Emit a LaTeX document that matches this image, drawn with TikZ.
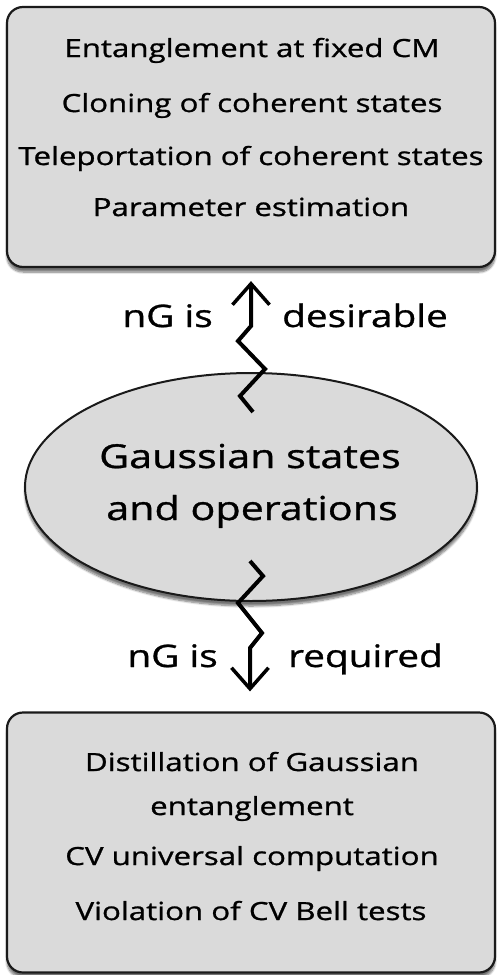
\documentclass[tikz,border=0pt]{standalone}
\usepackage{fontspec}
\setmainfont{Open Sans}[FakeStretch=1.25, FakeBold=1]
\usetikzlibrary{shapes.geometric,arrows.meta,shadows.blur,calc}
\definecolor{boxfill}{HTML}{DADADA}
\definecolor{edge}{HTML}{1A1A1A}
\begin{document}
\begin{tikzpicture}[x=1pt,y=-1pt,
  shadowed/.style={blur shadow={shadow xshift=0pt, shadow yshift=-5pt, shadow blur steps=8, shadow opacity=55}},
  box/.style={draw=edge, line width=2.2pt, fill=boxfill, rounded corners=16pt, shadowed,
    minimum width=488pt, minimum height=260pt, inner sep=0pt},
  ell/.style={ellipse, draw=edge, line width=2pt, fill=boxfill, shadowed,
    minimum width=452pt, minimum height=228pt, inner sep=0pt},
  txt/.style={font=\fontsize{25}{30}\selectfont, inner sep=0pt, anchor=base},
  big/.style={font=\fontsize{33}{38}\selectfont, inner sep=0pt, anchor=base},
  lbl/.style={font=\fontsize{31}{36}\selectfont, inner sep=0pt},
  zig/.style={line width=4pt, line join=miter, draw=black,
    -{Straight Barb[length=21pt, width=37pt, line width=3.5pt]}}
]
\useasboundingbox (0,0) rectangle (498,975);

% boxes and ellipse
\node[box] (top) at (251,137) {};
\node[box] (bot) at (251,842.5) {};
\node[ell] (gs) at (251,487) {};

% top box text
\node[txt] (t1) at (252,57) {Entanglement at fixed CM};
\node[txt] (t2) at (252,112) {Cloning of coherent states};
\node[txt] (t3) at (251,165) {Teleportation of coherent states};
\node[txt] (t4) at (251,216) {Parameter estimation};

% ellipse text
\node[big] (g1) at (250,468) {Gaussian states};
\node[big] (g2) at (252,520) {and operations};

% bottom box text
\node[txt] (b1) at (252,771) {Distillation of Gaussian};
\node[txt] (b2) at (252,815) {entanglement};
\node[txt] (b3) at (252,865) {CV universal computation};
\node[txt] (b4) at (251,920) {Violation of CV Bell tests};

% zigzag connectors
\coordinate (a0) at ($(gs.north)+(2,40)$);
\coordinate (a5) at ($(top.south)+(0,13)$);
\draw[zig] (a0) -- ++(-13,-16) -- ++(25,-27) -- ++(-27,-28) -- ++(13,-15) -- (a5);

\coordinate (c0) at ($(gs.south)+(-1,-41)$);
\coordinate (c5) at ($(bot.north)+(-1,-20)$);
\draw[zig] (c0) -- ++(13,15) -- ++(-25,27) -- ++(24,30) -- ++(-12,15) -- (c5);

% labels
\node[lbl, anchor=base east] (l1) at (213,327) {nG is};
\node[lbl, anchor=base west] (l2) at (282,327) {desirable};
\node[lbl, anchor=base east] (l3) at (218,667) {nG is};
\node[lbl, anchor=base west] (l4) at (288,667) {required};
\end{tikzpicture}
\end{document}
